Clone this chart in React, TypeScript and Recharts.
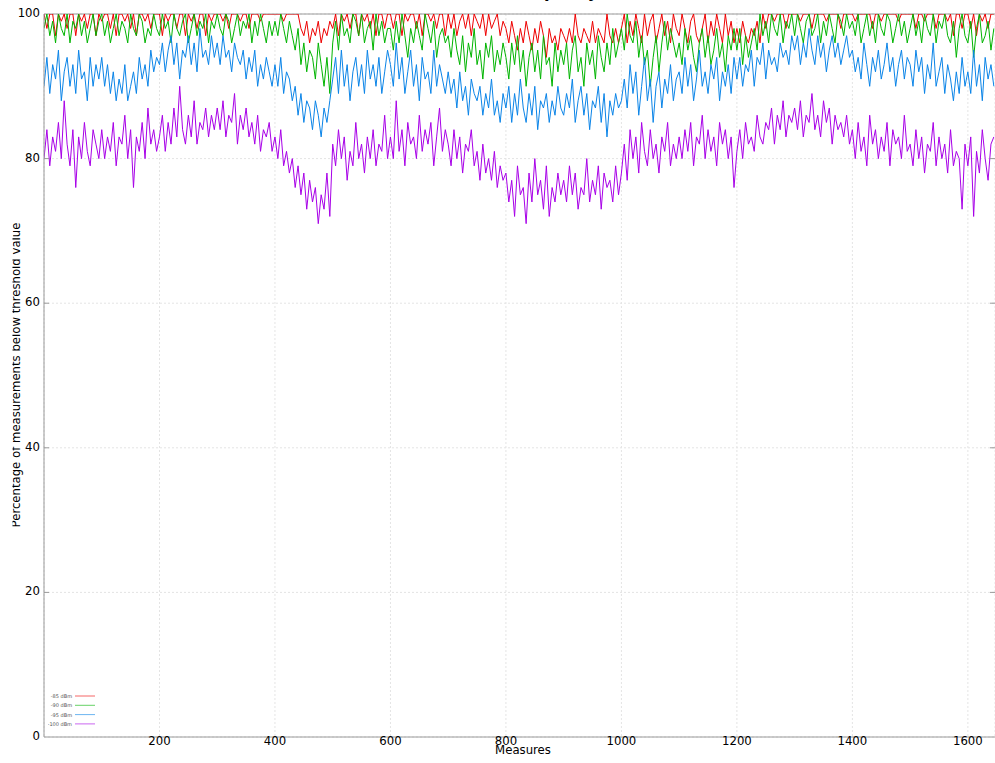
import { LineChart, Line, XAxis, YAxis, CartesianGrid, ReferenceLine, Legend, Label } from "recharts";

// one sample every 5 measures, values in %
const MEASURE_STEP = 5;
const X_TICKS = [200, 400, 600, 800, 1000, 1200, 1400, 1600];
const Y_TICKS = [0, 20, 40, 60, 80, 100];

const SERIES_NAMES = ["-85 dBm", "-90 dBm", "-95 dBm", "-100 dBm"];
const SERIES_COLORS = ["#ee0000", "#00b400", "#0a84e8", "#a800e8"];

const RED_85 = [
    100, 98, 100, 100, 97, 100, 99, 100, 98, 100, 100, 97, 100, 99, 100, 98, 100, 100, 97, 100,
    99, 100, 100, 98, 100, 97, 100, 100, 99, 100, 98, 100, 97, 100, 100, 99, 100, 98, 100, 100,
    100, 97, 100, 99, 100, 100, 98, 100, 100, 97, 100, 99, 100, 98, 100, 100, 97, 100, 99, 100,
    100, 100, 99, 100, 98, 100, 100, 100, 99, 100, 100, 98, 100, 100, 100, 99, 100, 100, 100, 100,
    100, 100, 100, 99, 100, 100, 100, 100, 100, 98, 97, 99, 96, 98, 97, 99, 96, 98, 97, 99,
    98, 100, 97, 100, 99, 100, 98, 100, 100, 97, 100, 99, 100, 98, 100, 97, 100, 100, 98, 100,
    100, 98, 100, 100, 97, 100, 99, 100, 100, 98, 100, 97, 100, 100, 99, 100, 98, 100, 100, 97,
    100, 98, 100, 97, 99, 100, 98, 100, 97, 100, 99, 98, 100, 97, 100, 98, 99, 100, 97, 99,
    98, 96, 99, 97, 95, 98, 96, 99, 97, 95, 98, 96, 99, 97, 94, 98, 96, 97, 95, 98,
    97, 96, 98, 96, 100, 97, 96, 98, 97, 96, 99, 96, 98, 97, 96, 100, 97, 96, 98, 96,
    98, 100, 96, 99, 97, 100, 98, 96, 100, 97, 99, 100, 96, 98, 100, 97, 99, 96, 100, 98,
    97, 100, 98, 96, 99, 100, 97, 96, 98, 100, 96, 99, 97, 100, 98, 96, 100, 97, 99, 96,
    98, 96, 99, 97, 96, 98, 97, 99, 96, 100, 98, 100, 100, 99, 100, 100, 100, 98, 100, 100,
    100, 100, 99, 100, 100, 100, 98, 100, 100, 100, 100, 99, 100, 100, 100, 100, 98, 100, 100, 100,
    100, 99, 100, 100, 100, 100, 100, 98, 100, 100, 99, 100, 100, 100, 100, 100, 99, 100, 100, 100,
    100, 100, 98, 100, 100, 99, 100, 100, 100, 98, 100, 100, 100, 99, 100, 97, 100, 100, 98, 100,
    100, 98, 100, 97, 100, 99, 100, 98, 100, 100,
];

const GREEN_90 = [
    98, 100, 97, 99, 96, 100, 98, 97, 100, 96, 99, 98, 100, 97, 99, 96, 98, 100, 97, 99,
    100, 97, 99, 96, 98, 100, 97, 99, 98, 96, 100, 98, 97, 100, 99, 96, 98, 97, 100, 98,
    97, 100, 98, 99, 96, 100, 98, 97, 99, 100, 96, 98, 100, 97, 99, 98, 100, 96, 99, 98,
    100, 98, 97, 100, 99, 96, 98, 100, 97, 99, 98, 100, 96, 99, 97, 100, 98, 96, 99, 97,
    99, 97, 100, 98, 96, 99, 97, 95, 98, 93, 96, 92, 95, 94, 91, 96, 93, 90, 94, 89,
    96, 99, 95, 100, 97, 98, 96, 100, 99, 97, 100, 96, 98, 99, 95, 100, 97, 99, 96, 98,
    98, 95, 99, 96, 100, 97, 94, 98, 96, 99, 97, 95, 100, 98, 96, 99, 94, 97, 98, 96,
    97, 94, 98, 95, 93, 97, 92, 96, 94, 98, 93, 95, 91, 96, 94, 97, 92, 95, 93, 96,
    94, 91, 96, 93, 97, 92, 95, 90, 94, 96, 92, 95, 91, 97, 93, 94, 90, 96, 92, 95,
    93, 96, 91, 95, 97, 92, 94, 90, 96, 93, 95, 91, 97, 94, 92, 96, 93, 98, 94, 96,
    98, 95, 100, 97, 96, 99, 94, 97, 93, 95, 90, 94, 97, 92, 96, 99, 95, 98, 96, 94,
    96, 93, 98, 95, 97, 94, 92, 96, 98, 94, 97, 93, 95, 98, 94, 96, 92, 97, 95, 98,
    95, 98, 93, 97, 94, 96, 98, 95, 100, 97, 99, 96, 100, 98, 97, 100, 96, 99, 98, 100,
    97, 100, 98, 96, 99, 100, 97, 98, 100, 96, 99, 97, 100, 98, 96, 100, 99, 97, 100, 98,
    99, 97, 100, 96, 98, 100, 97, 99, 96, 100, 98, 97, 100, 99, 96, 98, 100, 97, 99, 96,
    98, 100, 97, 99, 96, 100, 98, 97, 100, 96, 99, 98, 100, 97, 96, 99, 94, 98, 100, 97,
    96, 99, 94, 98, 100, 96, 97, 99, 95, 98,
];

const BLUE_95 = [
    90, 94, 89, 93, 91, 95, 88, 92, 94, 90, 93, 89, 95, 91, 92, 88, 94, 90, 93, 91,
    94, 90, 93, 89, 92, 88, 91, 89, 93, 88, 90, 92, 89, 94, 91, 93, 90, 95, 92, 94,
    93, 96, 92, 95, 97, 93, 96, 91, 95, 94, 97, 93, 96, 92, 98, 94, 95, 93, 97, 94,
    96, 93, 97, 94, 95, 92, 96, 94, 93, 95, 91, 94, 92, 95, 90, 93, 91, 94, 92, 90,
    93, 90, 94, 89, 92, 91, 88, 90, 86, 89, 85, 88, 87, 84, 88, 86, 83, 87, 85, 88,
    91, 94, 89, 95, 90, 93, 88, 92, 94, 90, 93, 89, 95, 91, 93, 90, 94, 89, 92, 95,
    93, 90, 96, 91, 94, 89, 92, 95, 90, 93, 88, 94, 91, 92, 89, 95, 90, 93, 91, 89,
    92, 89, 91, 87, 92, 88, 90, 86, 91, 89, 88, 90, 86, 89, 87, 91, 86, 88, 85, 89,
    87, 90, 85, 89, 86, 91, 87, 85, 89, 86, 90, 84, 88, 87, 89, 85, 88, 86, 90, 87,
    86, 89, 87, 91, 85, 88, 90, 86, 89, 84, 88, 87, 90, 85, 89, 83, 88, 86, 89, 87,
    88, 91, 87, 93, 89, 92, 86, 90, 94, 88, 91, 85, 90, 92, 87, 91, 89, 93, 88, 91,
    92, 89, 94, 90, 93, 88, 91, 95, 90, 92, 89, 93, 91, 94, 88, 92, 90, 93, 89, 94,
    91, 94, 90, 93, 92, 95, 90, 94, 93, 96, 91, 95, 93, 94, 92, 96, 94, 95, 93, 97,
    95, 97, 93, 96, 94, 98, 95, 93, 97, 94, 96, 92, 95, 97, 94, 96, 93, 95, 97, 94,
    95, 92, 94, 91, 96, 93, 90, 94, 92, 95, 91, 93, 96, 92, 94, 90, 93, 95, 91, 94,
    93, 90, 95, 92, 94, 89, 93, 91, 96, 90, 92, 94, 89, 93, 91, 88, 92, 89, 94, 90,
    92, 89, 95, 90, 93, 88, 94, 91, 93, 90,
];

const PURPLE_100 = [
    80, 84, 79, 83, 81, 85, 80, 88, 82, 79, 84, 76, 83, 80, 85, 81, 79, 84, 82, 80,
    84, 80, 83, 81, 85, 79, 83, 82, 86, 80, 84, 76, 83, 81, 85, 80, 87, 82, 84, 81,
    83, 86, 81, 85, 82, 87, 83, 90, 84, 82, 86, 83, 88, 82, 85, 84, 87, 83, 86, 84,
    87, 84, 88, 83, 86, 85, 89, 82, 86, 84, 87, 83, 85, 82, 86, 81, 84, 83, 85, 81,
    83, 80, 84, 79, 81, 78, 80, 76, 79, 75, 78, 73, 77, 74, 76, 71, 75, 73, 78, 72,
    82, 79, 84, 80, 83, 77, 81, 79, 85, 80, 82, 78, 83, 80, 84, 79, 82, 81, 86, 80,
    83, 80, 88, 81, 84, 79, 85, 82, 83, 80, 86, 81, 84, 82, 85, 79, 83, 87, 81, 84,
    82, 79, 84, 80, 83, 78, 82, 81, 84, 79, 81, 77, 82, 78, 80, 77, 81, 76, 79, 77,
    78, 74, 77, 72, 79, 75, 76, 71, 78, 74, 80, 75, 77, 73, 79, 72, 76, 74, 78, 75,
    77, 74, 79, 75, 78, 73, 76, 75, 80, 74, 77, 75, 79, 73, 78, 76, 77, 74, 79, 75,
    78, 82, 77, 84, 80, 83, 78, 85, 81, 79, 84, 80, 82, 78, 83, 81, 85, 79, 82, 80,
    83, 80, 84, 81, 85, 79, 83, 82, 86, 80, 84, 81, 83, 79, 85, 82, 84, 80, 83, 76,
    81, 84, 80, 85, 82, 83, 81, 86, 83, 82, 85, 84, 87, 82, 86, 84, 88, 83, 86, 85,
    87, 84, 88, 83, 86, 85, 89, 84, 86, 83, 88, 85, 87, 82, 86, 84, 85, 83, 86, 82,
    84, 80, 85, 81, 83, 79, 86, 82, 84, 80, 83, 81, 85, 79, 84, 82, 83, 80, 86, 81,
    82, 79, 84, 80, 83, 78, 82, 81, 85, 79, 83, 80, 82, 78, 84, 79, 81, 80, 73, 82,
    79, 83, 72, 81, 78, 84, 80, 77, 82, 83,
];

const SERIES = [RED_85, GREEN_90, BLUE_95, PURPLE_100];
const KEYS = ["r", "g", "b", "p"];

const data = PURPLE_100.map((_, i) => ({
    m: i * MEASURE_STEP,
    r: RED_85[i],
    g: GREEN_90[i],
    b: BLUE_95[i],
    p: PURPLE_100[i],
}));

const FONT = "'DejaVu Sans Condensed', 'DejaVu Sans', sans-serif";
const AXIS = "#9a9a9a";

function YTick({ y, payload }: any) {
    const v = payload.value;
    return (
        <g>
            <text x={40} y={y + 3} textAnchor="end" fontSize={13} fontFamily={FONT} fill="#000">{v}</text>
            {v > 0 && v < 100 && (
                <>
                    <line x1={44} x2={49} y1={y} y2={y} stroke={AXIS} />
                    <line x1={990} x2={995} y1={y} y2={y} stroke={AXIS} />
                </>
            )}
        </g>
    );
}

function XTick({ x, payload }: any) {
    return (
        <text x={x} y={745} textAnchor="middle" fontSize={13} fontFamily={FONT} fill="#000">{payload.value}</text>
    );
}

// the reference cuts the tops of the rotated glyphs at the left edge
function YTitle() {
    return (
        <g>
            <defs>
                <clipPath id="ylab-clip">
                    <rect x={12.5} y={0} width={40} height={763} />
                </clipPath>
            </defs>
            <g clipPath="url(#ylab-clip)">
                <text x={20} y={375} transform="rotate(-90, 20, 375)" textAnchor="middle" fontSize={13}
                    fontFamily={FONT} fill="#000">
                    Percentage of measurements below threshold value
                </text>
            </g>
        </g>
    );
}

function ChartTitle() {
    return (
        <text x={560} y={-3} textAnchor="middle" fontSize={18} fontWeight="bold" fontFamily={FONT} fill="#000">
            Channel occupancy (868 MHz)
        </text>
    );
}

function TinyLegend() {
    return (
        <svg width={50} height={40}>
            {SERIES_NAMES.map((name, i) => (
                <g key={name}>
                    <text x={24} y={10 + i * 9.3} textAnchor="end" fontSize={5} fontFamily="DejaVu Sans" fill="#555">{name}</text>
                    <line x1={27} x2={47} y1={8 + i * 9.3} y2={8 + i * 9.3} stroke={SERIES_COLORS[i]} strokeOpacity={0.6} />
                </g>
            ))}
        </svg>
    );
}

export default function App() {
    return (
        <div style={{ position: "absolute", left: 0, top: 0, width: 995, height: 763, background: "#fff" }}>
            <LineChart width={995} height={763} data={data} margin={{ top: 14, right: 0, bottom: 0, left: 0 }}>
                <CartesianGrid stroke="#e4e4e4" strokeDasharray="2 2" />
                <XAxis
                    type="number"
                    dataKey="m"
                    domain={[0, 1647]}
                    ticks={X_TICKS}
                    height={26}
                    tickLine={false}
                    axisLine={{ stroke: AXIS }}
                    tick={<XTick />}
                    allowDataOverflow
                >
                    <Label content={() => (
                        <text x={523} y={754} textAnchor="middle" fontSize={13} fontFamily={FONT} fill="#000">Measures</text>
                    )} />
                </XAxis>
                <YAxis
                    domain={[0, 100]}
                    ticks={Y_TICKS}
                    width={44}
                    tickLine={false}
                    axisLine={{ stroke: AXIS }}
                    tick={<YTick />}
                    allowDataOverflow
                >
                    <Label content={() => <YTitle />} />
                    <Label content={() => <ChartTitle />} />
                </YAxis>
                <ReferenceLine y={100} stroke={AXIS} />
                <Legend
                    layout="horizontal"
                    verticalAlign="middle"
                    align="center"
                    content={() => <TinyLegend />}
                    wrapperStyle={{ left: 48, top: 688, width: 50, height: 40 }}
                />
                {SERIES.map((_, i) => (
                    <Line
                        key={KEYS[i]}
                        type="linear"
                        dataKey={KEYS[i]}
                        name={SERIES_NAMES[i]}
                        stroke={SERIES_COLORS[i]}
                        strokeWidth={1}
                        dot={false}
                        activeDot={false}
                        isAnimationActive={false}
                    />
                ))}
            </LineChart>
        </div>
    );
}
